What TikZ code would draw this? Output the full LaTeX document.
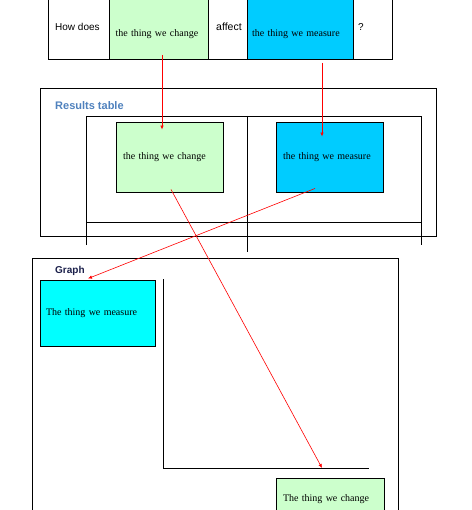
\documentclass[tikz,border=0pt]{standalone}
\usepackage{fontspec}
\setmainfont{Liberation Serif}
\newfontfamily\arialfont{Liberation Sans}
\usetikzlibrary{arrows.meta}

\definecolor{changegreen}{HTML}{CCFFCC}
\definecolor{measureblue}{HTML}{00CCFF}
\definecolor{measurecyan}{HTML}{00FFFF}
\definecolor{titleblue}{HTML}{4F81BD}
\definecolor{titlenavy}{HTML}{1A1F4A}

\tikzset{
    thing/.style={draw, line width=0.9pt, align=left, inner ysep=3pt, font=\fontsize{10}{12}\selectfont},
    word/.style={anchor=west, inner sep=0pt, font=\arialfont\fontsize{10}{12}\selectfont},
    heading/.style={anchor=west, inner sep=0pt, font=\arialfont\bfseries\fontsize{10}{12}\selectfont},
    rule/.style={line width=0.8pt},
    flow/.style={red, line width=0.6pt, -{Latex[length=4pt,width=3.5pt]}},
}

\begin{document}
\begin{tikzpicture}[x=1pt, y=-1pt]
    \useasboundingbox (0,0) rectangle (471,510);
    \clip (0,0) rectangle (471,510);

    \draw[rule] (48,-20) rectangle (392,59);
    \node[word] (howdoes) at (55,27) {How does};
    \node[thing, fill=changegreen, text width=86pt, inner xsep=6.5pt, text height=50pt, text depth=20.5pt, anchor=south] (askchange) at (158.5,60) {the thing we change};
    \node[word, font=\arialfont\fontsize{10.5}{12}\selectfont] (affect) at (216,27) {affect};
    \node[thing, fill=measureblue, text width=96pt, inner xsep=5pt, text height=50pt, text depth=20.5pt, anchor=south] (askmeasure) at (300,60) {the thing we measure};
    \node[word] (question) at (358,27) {?};

    \draw[rule] (40,88) rectangle (436,236);
    \node[heading, titleblue, font=\arialfont\bfseries\fontsize{11}{13}\selectfont] (resultstitle) at (55,106) {Results table};
    \draw[rule] (86,245) -- (86,116) -- (421,116) -- (421,245);
    \draw[rule] (86,222) -- (421,222);
    \draw[rule] (247,116) -- (247,252);
    \node[thing, fill=changegreen, text width=93pt, inner xsep=7pt, minimum height=70pt] (tablechange) at (169.5,157) {the thing we change};
    \node[thing, fill=measureblue, text width=93pt, inner xsep=7pt, minimum height=70pt] (tablemeasure) at (329.5,157) {the thing we measure};

    \draw[rule] (32,258) rectangle (398,530);
    \node[heading, titlenavy] (graphtitle) at (55,271) {Graph};
    \node[thing, fill=measurecyan, text width=103pt, inner xsep=6pt, minimum height=66pt] (graphmeasure) at (97.5,313) {The thing we measure};
    \draw[rule] (163,279) coordinate (ytop) -- (163,468) coordinate (origin) -- (369,468) coordinate (xend);
    \node[thing, fill=changegreen, text width=94pt, inner xsep=7pt, minimum height=42pt] (graphchange) at (330,499) {The thing we change};

    \draw[flow] ([xshift=3.5pt, yshift=5pt]askchange.south) -- ([xshift=-7.5pt, yshift=-8pt]tablechange.north);
    \draw[flow] ([xshift=22pt, yshift=-3pt]askmeasure.south) -- ([xshift=-7.5pt, yshift=-15pt]tablemeasure.north);
    \draw[flow] ([xshift=-14.5pt, yshift=4pt]tablemeasure.south) -- ([xshift=-9.5pt, yshift=1pt]graphmeasure.north);
    \draw[flow] ([xshift=1.5pt, yshift=3pt]tablechange.south) -- ([xshift=159pt]origin);
\end{tikzpicture}
\end{document}
